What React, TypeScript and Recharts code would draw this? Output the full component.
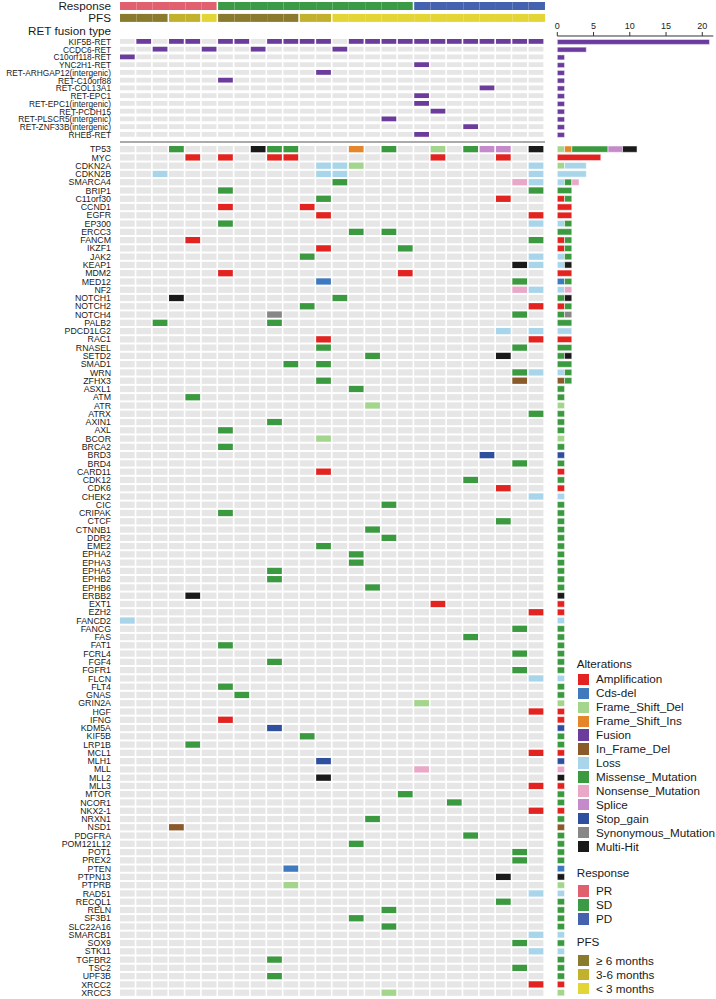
import React from "react";
import { BarChart, Bar, XAxis, YAxis } from "recharts";

const FONT = '"Liberation Sans", Arial, Helvetica, sans-serif';

const sampleCount = 26;

// clinical annotations, one entry per sample (left to right)
const response = [
  "PR", "PR", "PR", "PR", "PR", "PR",
  "SD", "SD", "SD", "SD", "SD", "SD", "SD", "SD", "SD", "SD", "SD", "SD",
  "PD", "PD", "PD", "PD", "PD", "PD", "PD", "PD",
];
const pfs = [
  "≥6", "≥6", "≥6", "3-6", "3-6", "<3",
  "≥6", "≥6", "≥6", "≥6", "≥6", "3-6", "3-6",
  "<3", "<3", "<3", "<3", "<3", "<3", "<3", "<3", "<3", "<3", "<3", "<3", "<3",
];

// RET fusion partners and the samples (1-based) carrying them
const fusions = [
  "KIF5B-RET", "CCDC6-RET", "C10orf118-RET", "YNC2H1-RET",
  "RET-ARHGAP12(intergenic)", "RET-C10orf88", "RET-COL13A1", "RET-EPC1",
  "RET-EPC1(intergenic)", "RET-PCDH15", "RET-PLSCR5(intergenic)",
  "RET-ZNF33B(intergenic)", "RHEB-RET",
];
const fusionSamples = [
  [2, 4, 5, 7, 8, 10, 11, 12, 13, 15, 16, 17, 18, 19, 20, 21, 22, 23, 24, 25, 26],
  [3, 6, 9, 14], [1], [19], [13], [7], [23], [19], [19], [20], [17], [22], [19],
];

// co-mutated genes; hits are "<sample><code>"
const genes = [
  "TP53", "MYC", "CDKN2A", "CDKN2B", "SMARCA4", "BRIP1", "C11orf30", "CCND1",
  "EGFR", "EP300", "ERCC3", "FANCM", "IKZF1", "JAK2", "KEAP1", "MDM2", "MED12",
  "NF2", "NOTCH1", "NOTCH2", "NOTCH4", "PALB2", "PDCD1LG2", "RAC1", "RNASEL",
  "SETD2", "SMAD1", "WRN", "ZFHX3", "ASXL1", "ATM", "ATR", "ATRX", "AXIN1", "AXL",
  "BCOR", "BRCA2", "BRD3", "BRD4", "CARD11", "CDK12", "CDK6", "CHEK2", "CIC",
  "CRIPAK", "CTCF", "CTNNB1", "DDR2", "EME2", "EPHA2", "EPHA3", "EPHA5", "EPHB2",
  "EPHB6", "ERBB2", "EXT1", "EZH2", "FANCD2", "FANCG", "FAS", "FAT1", "FCRL4",
  "FGF4", "FGFR1", "FLCN", "FLT4", "GNAS", "GRIN2A", "HGF", "IFNG", "KDM5A",
  "KIF5B", "LRP1B", "MCL1", "MLH1", "MLL", "MLL2", "MLL3", "MTOR", "NCOR1",
  "NKX2-1", "NRXN1", "NSD1", "PDGFRA", "POM121L12", "POT1", "PREX2", "PTEN",
  "PTPN13", "PTPRB", "RAD51", "RECQL1", "RELN", "SF3B1", "SLC22A16", "SMARCB1",
  "SOX9", "STK11", "TGFBR2", "TSC2", "UPF3B", "XRCC2", "XRCC3",
];
const geneHits = [
  "4M 9H 10M 11M 15I 17M 20F 22M 23S 24S 26H", "5A 7A 10A 11A 20A 24A",
  "13L 14L 15F 26L", "3L 13L 14L 26L", "14M 25N 26L", "7M 26M", "13M 24A",
  "7A 12A", "13A 26A", "7M 26L", "15M 17M", "5A 26M", "13A 18M", "12M 26L",
  "25H 26L", "7A 18A", "13C 25M", "25N 26L", "4H 14M", "12M 26A", "10Y 25M",
  "3M 10M", "24L 26L", "13A 26A", "13M 25M", "16M 24H", "11M 13M", "25M 26L",
  "13M 25D", "15M", "5M", "16F", "26M", "10M", "7M",
  "13F", "7M", "23G", "25M", "13A", "22M", "24A", "26L", "17M",
  "7M", "24M", "16M", "17M", "13M", "15M", "15M", "10M", "10M",
  "16M", "5H", "20A", "26A", "1L", "25M", "22M", "7M", "25M",
  "10M", "25M", "26L", "7M", "8M", "19F", "26A", "7A", "10G",
  "12M", "5M", "26A", "13G", "19N", "13H", "26A", "18M", "21M",
  "26A", "16M", "4D", "22M", "15M", "25M", "25M", "11C",
  "24H", "11F", "26L", "24M", "17M", "15M", "17M", "26L",
  "25M", "26L", "10M", "25M", "10M", "26A", "17F",
];

const alterationNames = [
  "Amplification", "Cds-del", "Frame_Shift_Del", "Frame_Shift_Ins", "Fusion",
  "In_Frame_Del", "Loss", "Missense_Mutation", "Nonsense_Mutation", "Splice",
  "Stop_gain", "Synonymous_Mutation", "Multi-Hit",
];
const alterationCodes = ["A", "C", "F", "I", "U", "D", "L", "M", "N", "S", "G", "Y", "H"];

const countTicks = [0, 5, 10, 15, 20];

const alterationColors: Record<string, string> = {
  Amplification: "#E3231F",
  "Cds-del": "#3F79BE",
  Frame_Shift_Del: "#A4D58C",
  Frame_Shift_Ins: "#E6862B",
  Fusion: "#6B3C9B",
  In_Frame_Del: "#8B5A2B",
  Loss: "#A8D5EA",
  Missense_Mutation: "#3B9A3F",
  Nonsense_Mutation: "#E9A8C8",
  Splice: "#C58ACA",
  Stop_gain: "#2E4E9E",
  Synonymous_Mutation: "#878787",
  "Multi-Hit": "#1A1A1A",
};
const responseColors: Record<string, string> = { PR: "#E0606F", SD: "#3A9A45", PD: "#4462AE" };
const pfsColors: Record<string, string> = { "≥6": "#8A7A2E", "3-6": "#C2B12C", "<3": "#E4D536" };
const BG = "#E6E6E6";

const columns = Array.from({ length: sampleCount }, (_, i) => i + 1);

function parseHits(spec: string): string[] {
  const cells = new Array(sampleCount).fill("");
  spec.split(" ").filter(Boolean).forEach((tok) => {
    const col = parseInt(tok, 10);
    const code = tok.slice(String(col).length);
    cells[col - 1] = alterationNames[alterationCodes.indexOf(code)];
  });
  return cells;
}

function makeRow(name: string, cells: string[]) {
  const row: any = { name, cells };
  columns.forEach((k) => (row[`c${k}`] = 1));
  alterationNames.forEach((a) => (row[a] = cells.filter((c) => c === a).length));
  return row;
}

const fusionRows = fusions.map((name, i) =>
  makeRow(name, columns.map((k) => (fusionSamples[i].includes(k) ? "Fusion" : "")))
);
const geneRows = genes.map((name, i) => makeRow(name, parseHits(geneHits[i])));

const annotationRows = [
  { ...makeRow("Response", response), palette: responseColors },
  { ...makeRow("PFS", pfs), palette: pfsColors },
];

const labelTick = (size: number) => ({ fontSize: size, fill: "#1a1a1a", fontFamily: FONT });

function OncoGrid({ rows, top, height, cellHeight, labelSize }: any) {
  return (
    <div style={{ position: "absolute", left: 0, top, width: 560, height }}>
      <BarChart
        layout="vertical"
        width={560}
        height={height}
        data={rows}
        margin={{ top: 0, right: 15, bottom: 0, left: 0 }}
        barSize={cellHeight}
      >
        <XAxis type="number" domain={[0, sampleCount]} hide />
        <YAxis
          type="category"
          dataKey="name"
          width={120}
          interval={0}
          axisLine={false}
          tickLine={false}
          tickSize={0}
          tickMargin={9}
          tick={labelTick(labelSize)}
        />
        {columns.map((k) => (
          <Bar
            key={k}
            dataKey={`c${k}`}
            stackId="grid"
            isAnimationActive={false}
            shape={(p: any) => {
              const t = p.payload.cells[k - 1];
              return (
                <rect
                  x={p.x}
                  y={p.y}
                  width={Math.max(p.width - 1.6, 0)}
                  height={p.height}
                  fill={t ? alterationColors[t] : BG}
                />
              );
            }}
          />
        ))}
      </BarChart>
    </div>
  );
}

function CountBars({ rows, top, height, barSize, showAxis }: any) {
  const axisH = showAxis ? 30 : 0;
  return (
    <div style={{ position: "absolute", left: 540, top: top - axisH, width: 176, height: height + axisH }}>
      <BarChart
        layout="vertical"
        width={176}
        height={height + axisH}
        data={rows}
        margin={{ top: 0, right: 2.7, bottom: 0, left: 17.3 }}
        barSize={barSize}
      >
        <XAxis
          type="number"
          orientation="top"
          domain={[0, 21.52]}
          ticks={countTicks}
          interval={0}
          height={axisH}
          hide={!showAxis}
          tickSize={4}
          tickMargin={3}
          stroke="#333"
          tick={{ fontSize: 9, fill: "#222", fontFamily: FONT }}
        />
        <YAxis type="category" dataKey="name" hide padding={{ top: showAxis ? 2.4 : 0, bottom: 0 }} />
        {alterationNames.map((a) => (
          <Bar
            key={a}
            dataKey={a}
            stackId="n"
            fill={alterationColors[a]}
            stroke="#fff"
            strokeWidth={0.5}
            isAnimationActive={false}
          />
        ))}
      </BarChart>
    </div>
  );
}

function Annotations() {
  return (
    <div style={{ position: "absolute", left: 0, top: 0, width: 560, height: 23.8 }}>
      <BarChart
        layout="vertical"
        width={560}
        height={23.8}
        data={annotationRows}
        margin={{ top: 0, right: 15, bottom: 0, left: 0 }}
        barSize={8}
      >
        <XAxis type="number" domain={[0, sampleCount]} hide />
        <YAxis
          type="category"
          dataKey="name"
          width={120}
          interval={0}
          axisLine={false}
          tickLine={false}
          tickSize={0}
          tickMargin={9}
          tick={labelTick(11.7)}
        />
        {columns.map((k) => (
          <Bar
            key={k}
            dataKey={`c${k}`}
            stackId="ann"
            isAnimationActive={false}
            shape={(p: any) => {
              const cells = p.payload.cells;
              const v = cells[k - 1];
              const next = cells[k];
              const gap = next !== undefined && next !== v ? 1.5 : 0;
              return <rect x={p.x} y={p.y} width={p.width - gap} height={p.height} fill={p.payload.palette[v]} />;
            }}
          />
        ))}
      </BarChart>
    </div>
  );
}

const legendGroups = [
  { title: "Alterations", titleY: 663.7, firstY: 679.3, items: alterationNames.map((a) => [a, alterationColors[a]]) },
  { title: "Response", titleY: 872.7, firstY: 891, items: ["PR", "SD", "PD"].map((r) => [r, responseColors[r]]) },
  {
    title: "PFS",
    titleY: 942,
    firstY: 960.7,
    items: [
      ["≥ 6 months", pfsColors["≥6"]],
      ["3-6 months", pfsColors["3-6"]],
      ["< 3 months", pfsColors["<3"]],
    ],
  },
];

function Legends() {
  const txt: React.CSSProperties = { position: "absolute", fontSize: 11.7, lineHeight: "14px", color: "#1a1a1a", whiteSpace: "nowrap" };
  return (
    <>
      {legendGroups.map((g) => (
        <React.Fragment key={g.title}>
          <div style={{ ...txt, left: 576.7, top: g.titleY - 7 }}>{g.title}</div>
          {g.items.map(([label, color], i) => {
            const cy = g.firstY + i * 13.95;
            return (
              <React.Fragment key={label}>
                <div style={{ position: "absolute", left: 578, top: cy - 5.65, width: 11.3, height: 11.3, background: color }} />
                <div style={{ ...txt, left: 596, top: cy - 7 }}>{label}</div>
              </React.Fragment>
            );
          })}
        </React.Fragment>
      ))}
    </>
  );
}

export default function App() {
  return (
    <div style={{ position: "absolute", left: 0, top: 0, width: 716, height: 999, background: "#fff", fontFamily: FONT, overflow: "hidden" }}>
      <Annotations />
      <div style={{ position: "absolute", left: 0, top: 24, width: 111, textAlign: "right", fontSize: 11.7, lineHeight: "14px", color: "#1a1a1a" }}>
        RET fusion type
      </div>
      <OncoGrid rows={fusionRows} top={38.4} height={100.75} cellHeight={4.8} labelSize={8.3} />
      <div style={{ position: "absolute", left: 120, top: 141, width: 425, height: 1.5, background: "#ABABAB" }} />
      <OncoGrid rows={geneRows} top={144.9} height={851.8} cellHeight={6.3} labelSize={8.8} />
      <CountBars rows={fusionRows} top={36} height={103.15} barSize={5} showAxis />
      <CountBars rows={geneRows} top={144.9} height={851.8} barSize={6.3} showAxis={false} />
      <Legends />
    </div>
  );
}
